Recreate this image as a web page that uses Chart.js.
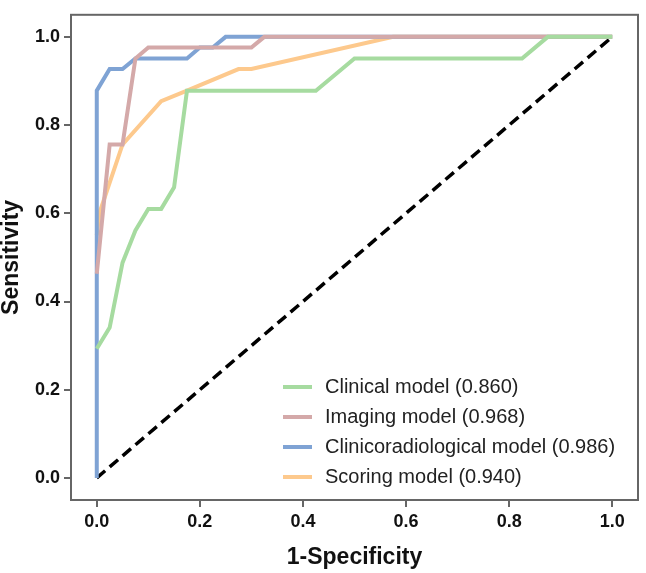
<!DOCTYPE html>
<html>
<head>
<meta charset="utf-8">
<script src="https://cdn.jsdelivr.net/npm/chart.js@4.4.0/dist/chart.umd.min.js"></script>
<style>
  html, body { margin: 0; padding: 0; background: #fff; }
  #wrap { width: 646px; height: 573px; }
</style>
</head>
<body>
<div id="wrap"><canvas id="roc-chart" width="646" height="573"></canvas></div>
<script>
// datos
const seriesLabels = [
  "Clinical model (0.860)",
  "Imaging model (0.968)",
  "Clinicoradiological model (0.986)",
  "Scoring model (0.940)",
];
const seriesColors = ["#a6dba0", "#d4a9a9", "#7fa3d4", "#fdc98d"];

const clinicalX = [0, 0.025, 0.05, 0.075, 0.1, 0.125, 0.15, 0.175, 0.425, 0.5, 0.825, 0.875, 1];
const clinicalY = [0.293, 0.341, 0.488, 0.561, 0.61, 0.61, 0.659, 0.878, 0.878, 0.951, 0.951, 1, 1];

const imagingX = [0, 0.025, 0.05, 0.075, 0.1, 0.3, 0.325, 1];
const imagingY = [0.463, 0.756, 0.756, 0.951, 0.976, 0.976, 1, 1];

const comboX = [0, 0, 0.025, 0.05, 0.075, 0.175, 0.2, 0.225, 0.25, 1];
const comboY = [0, 0.878, 0.927, 0.927, 0.951, 0.951, 0.976, 0.976, 1, 1];

const scoringX = [0, 0.005, 0.05, 0.125, 0.175, 0.275, 0.3, 0.575, 1];
const scoringY = [0.55, 0.6, 0.756, 0.854, 0.878, 0.927, 0.927, 1, 1];

const refX = [0, 1];
const refY = [0, 1];

const xTicks = [0, 0.2, 0.4, 0.6, 0.8, 1.0];
const yTicks = [0, 0.2, 0.4, 0.6, 0.8, 1.0];

function toPoints(xs, ys) {
  return xs.map((x, i) => ({ x: x, y: ys[i] }));
}

const seriesData = [
  toPoints(clinicalX, clinicalY),
  toPoints(imagingX, imagingY),
  toPoints(comboX, comboY),
  toPoints(scoringX, scoringY),
];

const fontFam = "Arial, 'Liberation Sans', Helvetica, sans-serif";

const datasets = seriesData.map((pts, i) => ({
  label: seriesLabels[i],
  data: pts,
  borderColor: seriesColors[i],
  borderWidth: 4,
  pointRadius: 0,
  tension: 0,
  fill: false,
}));

datasets.push({
  label: "ref",
  data: toPoints(refX, refY),
  borderColor: "#000",
  borderWidth: 3.5,
  borderDash: [11, 6],
  pointRadius: 0,
  fill: false,
});

// marco y leyenda dentro del área
const framePlugin = {
  id: "framePlugin",
  afterDatasetsDraw(chart) {
    const { ctx, chartArea } = chart;
    ctx.save();
    ctx.strokeStyle = "#666";
    ctx.lineWidth = 2;
    ctx.strokeRect(chartArea.left, chartArea.top,
      chartArea.right - chartArea.left, chartArea.bottom - chartArea.top);

    ctx.font = "20px " + fontFam;
    ctx.textBaseline = "middle";
    ctx.fillStyle = "#222";
    for (let i = 0; i < seriesLabels.length; i++) {
      const y = chartArea.bottom - 113 + i * 30;
      ctx.strokeStyle = seriesColors[i];
      ctx.lineWidth = 4;
      ctx.beginPath();
      ctx.moveTo(chartArea.right - 355, y);
      ctx.lineTo(chartArea.right - 326, y);
      ctx.stroke();
      ctx.fillText(seriesLabels[i], chartArea.right - 313, y);
    }
    ctx.restore();
  },
};

const ctxRoc = document.querySelector("#roc-chart").getContext("2d");

const rocChart = new Chart(ctxRoc, {
  type: "line",
  data: { datasets: datasets },
  options: {
    responsive: false,
    animation: false,
    layout: { padding: { top: 5, right: 8, left: 0, bottom: 0 } },
    plugins: {
      legend: { display: false },
      tooltip: { enabled: false },
    },
    scales: {
      x: {
        type: "linear",
        min: -0.05,
        max: 1.05,
        afterBuildTicks: (scale) => { scale.ticks = xTicks.map(v => ({ value: v })); },
        afterFit: (scale) => { scale.height = 73; },
        border: { display: false },
        grid: { drawOnChartArea: false, drawTicks: true, tickLength: 7, color: "#666", lineWidth: 2 },
        ticks: {
          padding: 4,
          color: "#111",
          font: { family: fontFam, size: 18, weight: "bold" },
          callback: (v) => v.toFixed(1),
        },
        title: {
          display: true,
          text: "1-Specificity",
          color: "#111",
          padding: { top: 0, bottom: 4 },
          font: { family: fontFam, size: 23, weight: "bold", lineHeight: 1 },
        },
      },
      y: {
        type: "linear",
        min: -0.05,
        max: 1.05,
        afterBuildTicks: (scale) => { scale.ticks = yTicks.map(v => ({ value: v })); },
        afterFit: (scale) => { scale.width = 71; },
        border: { display: false },
        grid: { drawOnChartArea: false, drawTicks: true, tickLength: 7, color: "#666", lineWidth: 2 },
        ticks: {
          padding: 4,
          color: "#111",
          font: { family: fontFam, size: 18, weight: "bold" },
          callback: (v) => v.toFixed(1),
        },
        title: {
          display: true,
          text: "Sensitivity",
          color: "#111",
          padding: { top: 0, bottom: 0 },
          font: { family: fontFam, size: 23, weight: "bold", lineHeight: 1 },
        },
      },
    },
  },
  plugins: [framePlugin],
});
</script>
</body>
</html>
